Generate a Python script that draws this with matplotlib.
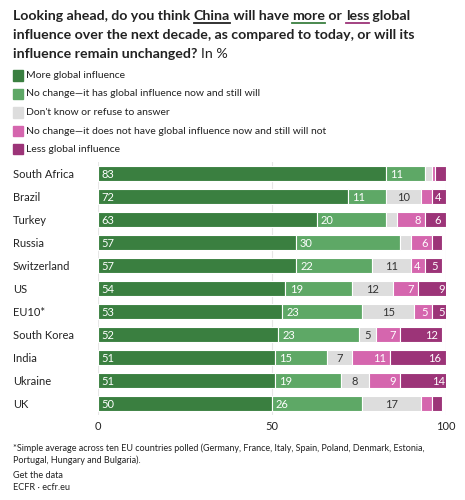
import numpy as np
import matplotlib.pyplot as plt

plt.rcParams['font.family'] = ['Lato', 'DejaVu Sans']

countries = ["South Africa", "Brazil", "Turkey", "Russia", "Switzerland", "US",
             "EU10*", "South Korea", "India", "Ukraine", "UK"]
more = [83, 72, 63, 57, 57, 54, 53, 52, 51, 51, 50]
same_has = [11, 11, 20, 30, 22, 19, 23, 23, 15, 19, 26]
dont_know = [2, 10, 3, 3, 11, 12, 15, 5, 7, 8, 17]
same_hasnt = [1, 3, 8, 6, 4, 7, 5, 7, 11, 9, 3]
less = [3, 4, 6, 3, 5, 9, 5, 12, 16, 14, 3]

series = [more, same_has, dont_know, same_hasnt, less]
names = ["More global influence",
         "No change\u2014it has global influence now and still will",
         "Don't know or refuse to answer",
         "No change\u2014it does not have global influence now and still will not",
         "Less global influence"]
colors = ["#3a7f40", "#5ea866", "#dddddd", "#d566ae", "#9c3478"]
txt_colors = ["white", "white", "#333333", "white", "white"]
align = ["left", "left", "center", "right", "right"]

fig = plt.figure(figsize=(4.65, 5.0), dpi=100)
W, H = 465, 500

# title, built from pieces so the underlines can follow the words
tfs = 10.2
line1 = [("Looking ahead, do you think ", None), ("China", '#222222'),
         (" will have ", None), ("more", '#3a7f40'), (" or ", None),
         ("less", '#9c3478'), (" global", None)]
fig.canvas.draw()
r = fig.canvas.get_renderer()
x = 13
under = []
for piece, uc in line1:
    t = fig.text(x / W, 1 - 20 / H, piece, fontsize=tfs, fontweight='bold',
                 color='#222222', va='baseline')
    w = t.get_window_extent(r).width
    if uc:
        under.append((x, x + w, uc))
    x += w
for x0, x1, c in under:
    fig.add_artist(plt.Line2D([x0 / W, x1 / W], [1 - 23 / H, 1 - 23 / H],
                              color=c, lw=1.3, transform=fig.transFigure))
fig.text(13 / W, 1 - 39 / H, "influence over the next decade, as compared to today, or will its",
         fontsize=tfs, fontweight='bold', color='#222222', va='baseline')
t3 = fig.text(13 / W, 1 - 58 / H, "influence remain unchanged? ",
              fontsize=tfs, fontweight='bold', color='#222222', va='baseline')
w3 = t3.get_window_extent(r).width
fig.text((13 + w3) / W, 1 - 58 / H, "In %", fontsize=tfs, color='#222222', va='baseline')

# legend
for i, (n, c) in enumerate(zip(names, colors)):
    yc = 75.5 + i * 18.5
    fig.add_artist(plt.Rectangle((13 / W, 1 - (yc + 5) / H), 10 / W, 10 / H,
                                 color=c, transform=fig.transFigure))
    fig.text(26 / W, 1 - yc / H, n, fontsize=7.5, color='#222222', va='center')

# bars
ax = fig.add_axes([97.5 / W, 1 - 415 / H, 348 / W, (415 - 162) / H])
y = np.arange(len(countries))
left = np.zeros(len(countries))
for k, s in enumerate(series):
    s = np.array(s)
    ax.barh(y, s, left=left, height=0.62, color=colors[k],
            edgecolor='white', linewidth=0.8, zorder=3)
    for i, v in enumerate(s):
        if v < 4:
            continue
        if align[k] == "left":
            xx, ha = left[i] + 1.2, "left"
        elif align[k] == "center":
            xx, ha = left[i] + v / 2, "center"
        else:
            xx, ha = left[i] + v - 1.2, "right"
        ax.text(xx, y[i] + 0.03, str(v), ha=ha, va='center', fontsize=8,
                color=txt_colors[k], zorder=4)
    left = left + s

ax.set_ylim(len(countries) - 0.5, -0.5)
ax.set_xlim(0, 100)
ax.set_yticks(y)
ax.set_yticklabels(countries, fontsize=8, color='#222222')
for lab in ax.get_yticklabels():
    lab.set_horizontalalignment('left')
ax.tick_params(axis='y', length=0, pad=(97.5 - 13) * 0.72)
ax.set_xticks([0, 50, 100])
ax.set_xticklabels(["0", "50", "100"], fontsize=8, color='#222222')
ax.tick_params(axis='x', length=0, pad=4)
ax.grid(axis='x', color='#e6e6e6', lw=0.8, zorder=0)
for sp in ax.spines.values():
    sp.set_visible(False)

# footnotes
fig.text(13 / W, 1 - 448 / H, "*Simple average across ten EU countries polled (Germany, France, Italy, Spain, Poland, Denmark, Estonia,",
         fontsize=6.5, color='#222222', va='center')
fig.text(13 / W, 1 - 460 / H, "Portugal, Hungary and Bulgaria).",
         fontsize=6.5, color='#222222', va='center')
fig.text(13 / W, 1 - 475 / H, "Get the data", fontsize=6.6, color='#222222', va='center')
fig.text(13 / W, 1 - 487.5 / H, "ECFR \u00b7 ecfr.eu", fontsize=6.6, color='#222222', va='center')

fig.savefig("out.png", dpi=100, facecolor='white')
